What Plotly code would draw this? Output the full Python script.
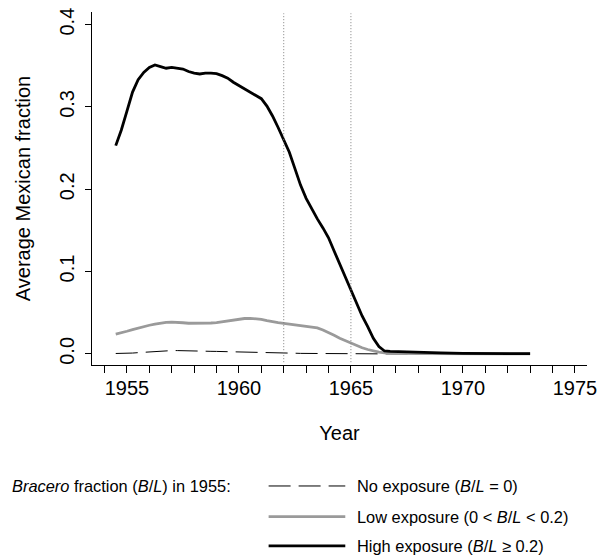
import plotly.graph_objects as go

# ---------------- data ----------------
years = [1954.5, 1954.75, 1955.0, 1955.25, 1955.5, 1955.75, 1956.0, 1956.25, 1956.5, 1956.75,
         1957.0, 1957.25, 1957.5, 1957.75, 1958.0, 1958.25, 1958.5, 1958.75, 1959.0, 1959.25,
         1959.5, 1959.75, 1960.0, 1960.25, 1960.5, 1960.75, 1961.0, 1961.25, 1961.5, 1961.75,
         1962.0, 1962.25, 1962.5, 1962.75, 1963.0, 1963.25, 1963.5, 1963.75, 1964.0, 1964.25,
         1964.5, 1964.75, 1965.0, 1965.25, 1965.5, 1965.75, 1966.0, 1966.25, 1966.5, 1966.75,
         1967.0, 1968.0, 1969.0, 1970.0, 1971.0, 1972.0, 1973.0]

high_exposure = [0.253, 0.272, 0.295, 0.318, 0.333, 0.342, 0.348, 0.351, 0.349, 0.347,
                 0.348, 0.347, 0.346, 0.343, 0.341, 0.340, 0.341, 0.341, 0.3405, 0.338,
                 0.335, 0.330, 0.326, 0.321, 0.3175, 0.314, 0.310, 0.301, 0.289, 0.275,
                 0.261, 0.245, 0.225, 0.205, 0.189, 0.176, 0.164, 0.153, 0.141, 0.125,
                 0.109, 0.093, 0.077, 0.061, 0.046, 0.033, 0.019, 0.009, 0.0035, 0.003,
                 0.0027, 0.002, 0.0012, 0.0005, 0.0003, 0.0002, 0.0002]

low_exposure = [0.024, 0.0255, 0.0275, 0.0295, 0.0315, 0.0332, 0.0348, 0.0362, 0.0375, 0.0383,
                0.0387, 0.0386, 0.0378, 0.0372, 0.0371, 0.0371, 0.0371, 0.0375, 0.038, 0.039,
                0.040, 0.0412, 0.0424, 0.043, 0.0432, 0.0428, 0.042, 0.0405, 0.039, 0.038,
                0.037, 0.036, 0.0355, 0.0347, 0.0338, 0.0328, 0.0316, 0.029, 0.026, 0.0225,
                0.019, 0.016, 0.0133, 0.010, 0.0075, 0.0053, 0.0035, 0.0022, 0.0013, 0.0008,
                0.0005, 0.0002, 0.0001, 0.0001, 0.0001, 0.0001, 0.0001]

no_exposure = [0.0005, 0.0005, 0.0007, 0.001, 0.0015, 0.002, 0.0025, 0.003, 0.0035, 0.0038,
               0.004, 0.004, 0.004, 0.0039, 0.0038, 0.0036, 0.0033, 0.0031, 0.003, 0.0029,
               0.0027, 0.0026, 0.0025, 0.0023, 0.0021, 0.0019, 0.0018, 0.0016, 0.0014, 0.0012,
               0.001, 0.0009, 0.0008, 0.0006, 0.0005, 0.0004, 0.0004, 0.0003, 0.0003, 0.0002,
               0.0002, 0.0001, 0.0001, 0.0, 0.0, 0.0, 0.0, 0.0, 0.0, 0.0,
               0.0, 0.0, 0.0, 0.0, 0.0, 0.0, 0.0]

x_tick_vals = [1955, 1960, 1965, 1970, 1975]
x_tick_text = ["1955", "1960", "1965", "1970", "1975"]
y_tick_vals = [0.0, 0.1, 0.2, 0.3, 0.4]
y_tick_text = ["0.0", "0.1", "0.2", "0.3", "0.4"]
policy_years = [1962, 1965]

legend_title = "<i>Bracero</i> fraction (<i>B</i>/<i>L</i>) in 1955:"
legend_labels = ["No exposure (<i>B</i>/<i>L</i> = 0)",
                 "Low exposure (0 &lt; <i>B</i>/<i>L</i> &lt; 0.2)",
                 "High exposure (<i>B</i>/<i>L</i> ≥ 0.2)"]

# ---------------- styles ----------------
FONT = "Liberation Sans, Arial, Helvetica, sans-serif"
LEG_SIZE = 16.4
styles = [dict(color="black", width=1, dash="22px,8px"),
          dict(color="#9a9a9a", width=2.8, dash="solid"),
          dict(color="black", width=2.8, dash="solid")]
series = [no_exposure, low_exposure, high_exposure]

fig = go.Figure()
for vals, st in zip(series, styles):
    fig.add_trace(go.Scatter(x=years, y=vals, mode="lines", line=st,
                             showlegend=False, hoverinfo="skip"))

shapes = []
for yr in policy_years:
    shapes.append(dict(type="line", xref="x", yref="paper", x0=yr, x1=yr,
                       y0=0.008, y1=0.996,
                       line=dict(color="#7f7f7f", width=1, dash="1px,2px")))

# legend drawn manually (paper coordinates)
leg_rows = [-0.3427, -0.4295, -0.5123]
annotations = [dict(text=legend_title, xref="paper", yref="paper", x=-0.166, y=leg_rows[0],
                    xanchor="left", yanchor="middle", showarrow=False,
                    font=dict(family=FONT, size=LEG_SIZE, color="black"))]
for ry, st, lab in zip(leg_rows, styles, legend_labels):
    shapes.append(dict(type="line", xref="paper", yref="paper", x0=0.3568, x1=0.5117,
                       y0=ry, y1=ry, line=st))
    annotations.append(dict(text=lab, xref="paper", yref="paper", x=0.532, y=ry,
                            xanchor="left", yanchor="middle", showarrow=False,
                            font=dict(family=FONT, size=LEG_SIZE, color="black")))

fig.update_layout(
    width=599, height=559,
    margin=dict(l=92, r=12, t=12, b=194, autoexpand=False),
    paper_bgcolor="white", plot_bgcolor="white",
    font=dict(family=FONT, size=20, color="black"),
    shapes=shapes, annotations=annotations,
    xaxis=dict(range=[1953.44, 1975.54], showline=True, linecolor="black", linewidth=1,
               showgrid=False, zeroline=False, ticks="outside", ticklen=7, tickwidth=1,
               tickcolor="black", tickvals=x_tick_vals, ticktext=x_tick_text,
               tickfont=dict(size=20), automargin=False, ticklabelstandoff=-2,
               minor=dict(dtick=1, tick0=1955, ticks="outside", ticklen=7,
                          tickwidth=1, tickcolor="black", showgrid=False),
               title=dict(text="Year", font=dict(size=20), standoff=27)),
    yaxis=dict(range=[-0.0135, 0.4153], showline=True, linecolor="black", linewidth=1,
               showgrid=False, zeroline=False, ticks="outside", ticklen=6, tickwidth=1,
               tickcolor="black", tickvals=y_tick_vals, ticktext=y_tick_text,
               tickangle=-90, tickfont=dict(size=20), automargin=False,
               ticklabelstandoff=3,
               title=dict(text="Average Mexican fraction", font=dict(size=20), standoff=20)),
)

fig.write_html("out.html", config={"displayModeBar": False},
               post_script="document.body.style.margin='0px';document.body.style.overflow='hidden';")
